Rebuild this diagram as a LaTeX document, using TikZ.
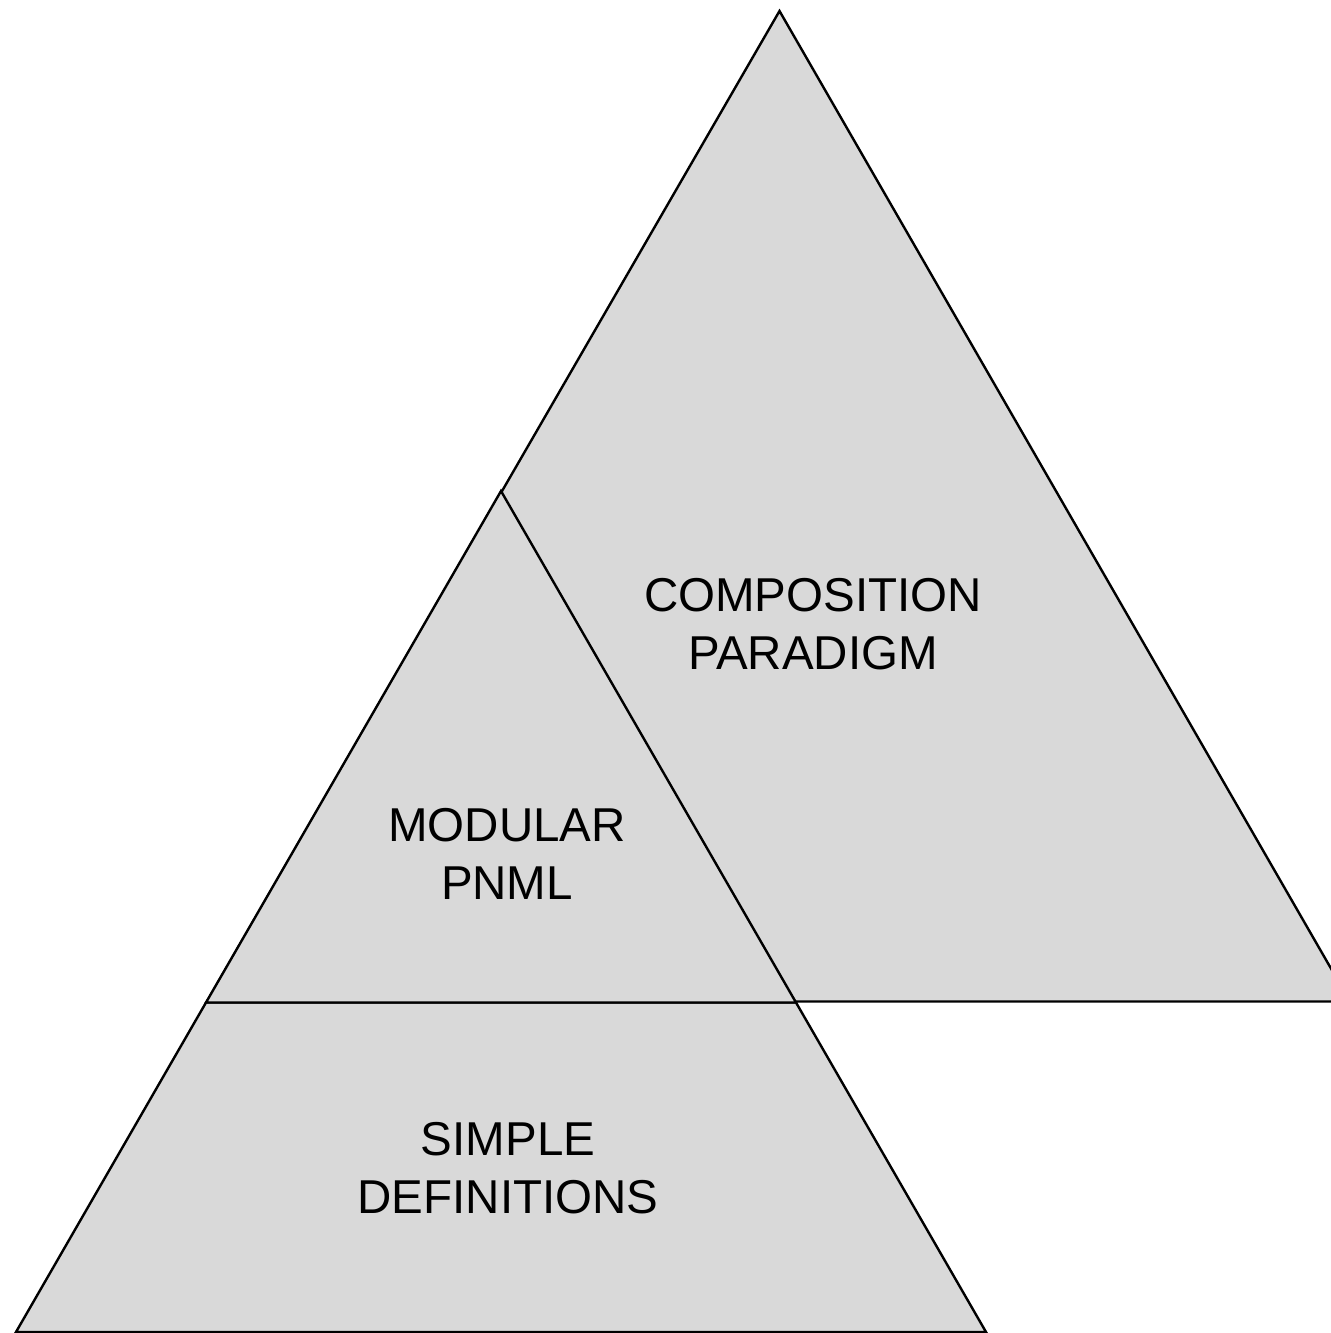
\documentclass[tikz,border=0pt]{standalone}
\usepackage{fontspec}
\setmainfont{Liberation Sans}
\definecolor{layergray}{RGB}{217,217,217}
\tikzset{
  layer/.style={fill=layergray, draw=black, line width=1.2pt},
  layertext/.style={align=center, font=\fontsize{23.75}{29}\selectfont},
}
\begin{document}
\begin{tikzpicture}[x=0.5pt, y=-0.5pt]

  \clip (0,0) rectangle (1331,1333);

  % corners of the three layers
  \coordinate (top)  at (779.5,11);
  \coordinate (bigL) at (207,1001.5);
  \coordinate (bigR) at (1350,1001.5);
  \coordinate (mid)  at (501,491);
  \coordinate (modL) at (206,1002.5);
  \coordinate (modR) at (796,1002.5);
  \coordinate (lowL) at (16,1332);
  \coordinate (lowR) at (986,1332);

  \draw[layer] (top) -- (bigR) -- (bigL) -- cycle;
  \draw[layer] (modL) -- (modR) -- (lowR) -- (lowL) -- cycle;
  \draw[layer] (mid) -- (modR) -- (modL) -- cycle;

  \node[layertext] (composition) at (813,624)  {COMPOSITION\\PARADIGM};
  \node[layertext] (modular)     at (507,854)  {MODULAR\\PNML};
  \node[layertext] (simple)      at (508,1168) {SIMPLE\\DEFINITIONS};

\end{tikzpicture}
\end{document}
